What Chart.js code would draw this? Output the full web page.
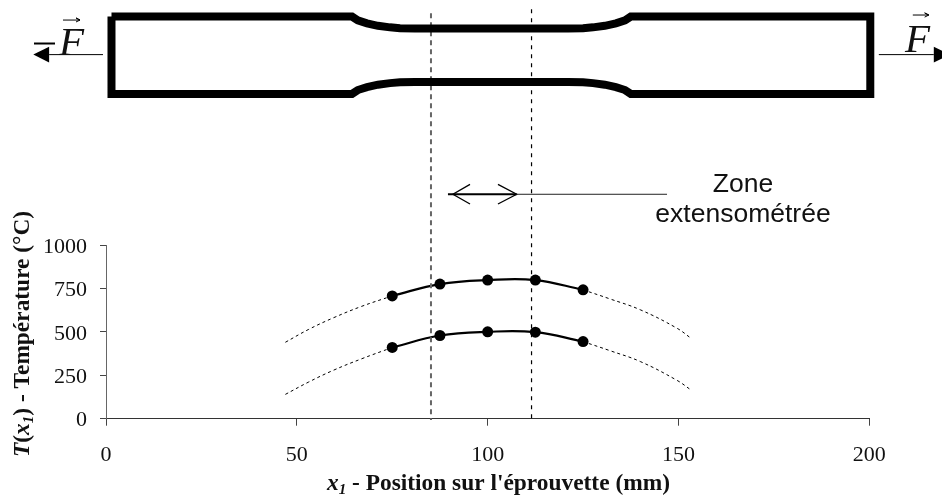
<!DOCTYPE html>
<html>
<head>
<meta charset="utf-8">
<script src="https://cdn.jsdelivr.net/npm/chart.js@4"></script>
<style>
  html, body { margin: 0; padding: 0; background: #fff; }
  canvas { display: block; }
</style>
</head>
<body>
<canvas id="chart" width="942" height="495"></canvas>
<script>
// measured points, x1 in mm, T in °C
const positions = [75, 87.5, 100, 112.5, 125];
const highTemps = [707, 775, 798, 798, 742];
const lowTemps = [410, 479, 500, 498, 444];

// fitted curves outside the measured zone (dashed)
const leftFitX = [47, 53, 59.6, 67, 75];
const highLeftFit = [440, 513, 581, 647, 707];
const lowLeftFit = [140, 210, 279, 345, 410];
const rightFitX = [125, 132, 140, 149.6, 153.3];
const highRightFit = [742, 690, 627, 521, 463];
const lowRightFit = [444, 392, 329, 221, 165];

// extensometer zone limits
const guideLeftX = [85.15, 85.15];
const guideLeftY = [2334, -8];
const guideRightX = [111.5, 111.5];
const guideRightY = [2357, -19];

// specimen sketched in the same data units, above the plot
const specimenX = [1.44, 64.46, 65.97, 68.39, 71.26, 74.41, 77.03, 80.96, 121.05, 125, 127.6, 130.7, 133.6, 136, 137.5,
  200.26, 200.26, 137.5, 136, 133.6, 130.7, 127.6, 125, 121.05, 80.96, 77.03, 74.41, 71.26, 68.39, 65.97, 64.46, 1.44, 1.44];
const specimenY = [2315, 2315, 2293, 2276, 2262, 2253, 2248, 2246, 2246, 2248, 2253, 2262, 2276, 2293, 2315,
  2315, 1870, 1870, 1892, 1909, 1923, 1932, 1937, 1939, 1939, 1937, 1932, 1923, 1909, 1892, 1870, 1870, 2315];

const zoneArrowX = [107.6, 89.6];
const zoneArrowY = [1292, 1292];
const leaderX = [147, 107.6];
const leaderY = [1292, 1292];
const chevronLeftX = [95.38, 90.9, 95.38];
const chevronLeftY = [1349, 1292, 1236];
const chevronRightX = [102.7, 107.6, 102.7];
const chevronRightY = [1349, 1292, 1236];

const forceLeftX = [-0.79, -14.9];
const forceRightX = [216.9, 202.5];
const forceY = [2096, 2096];
const minusX = [-13.36, -18.87];
const minusY = [2160, 2160];
const vecLeftX = [-11.27, -6.81, -7.86, -6.81, -7.86];
const vecLeftY = [2295, 2295, 2307, 2295, 2284];
const vecRightX = [211.4, 215.6, 214.5, 215.6, 214.5];
const vecRightY = [2324, 2324, 2336, 2324, 2312];
const headLeftX = [-19.05, -14.9, -14.9];
const headRightX = [221, 216.9, 216.9];
const headY = [2096, 2142, 2050];

const zip = (xs, ys) => xs.map((x, i) => ({ x: x, y: ys[i] }));

function sketchLine(xs, ys, width, color, dash) {
  return {
    data: zip(xs, ys),
    showLine: true,
    clip: false,
    tension: 0,
    pointRadius: 0,
    borderWidth: width,
    borderColor: color,
    borderDash: dash || [],
    borderJoinStyle: "miter",
    borderCapStyle: "butt",
  };
}

function fitLine(xs, ys, width, dash) {
  return {
    data: zip(xs, ys),
    showLine: true,
    tension: 0.4,
    pointRadius: 0,
    borderWidth: width,
    borderColor: "#000",
    borderDash: dash || [],
  };
}

function measured(ys) {
  return {
    data: zip(positions, ys),
    showLine: true,
    tension: 0.4,
    pointRadius: 5.5,
    pointBackgroundColor: "#000",
    pointBorderWidth: 0,
    borderWidth: 2.2,
    borderColor: "#000",
  };
}

const serif = '"Liberation Serif", "Times New Roman", serif';
const sans = '"Liberation Sans", Arial, sans-serif';

function drawRuns(ctx, runs, x, y) {
  runs.forEach((run) => {
    ctx.font = run.font;
    ctx.fillText(run.text, x, y + (run.dy || 0));
    x += ctx.measureText(run.text).width;
  });
}

const labels = {
  id: "labels",
  afterDatasetsDraw(chart) {
    const ctx = chart.ctx;
    const sx = chart.scales.x;
    const sy = chart.scales.y;

    ctx.save();
    ctx.fillStyle = "#000";
    [headLeftX, headRightX].forEach((xs) => {
      ctx.beginPath();
      xs.forEach((x, i) => {
        ctx.lineTo(sx.getPixelForValue(x), sy.getPixelForValue(headY[i]));
      });
      ctx.closePath();
      ctx.fill();
    });

    ctx.fillStyle = "#111";
    ctx.textBaseline = "alphabetic";
    ctx.textAlign = "left";
    ctx.font = "italic 41px " + serif;
    ctx.fillText("F", 59, 55);
    ctx.fillText("F", 905, 52);

    ctx.textAlign = "center";
    ctx.font = "26.5px " + sans;
    ctx.fillText("Zone", 743, 192);
    ctx.fillText("extensométrée", 743, 222);

    ctx.textAlign = "left";
    const bold = "bold 23.4px " + serif;
    const boldIt = "italic bold 23.4px " + serif;
    const sub = "italic bold 15px " + serif;
    drawRuns(ctx, [
      { text: "x", font: boldIt },
      { text: "1", font: sub, dy: 4 },
      { text: " - Position sur l'éprouvette (mm)", font: bold },
    ], 327, 490);

    ctx.translate(29, 457);
    ctx.rotate(-Math.PI / 2);
    drawRuns(ctx, [
      { text: "T", font: boldIt },
      { text: "(", font: bold },
      { text: "x", font: boldIt },
      { text: "1", font: sub, dy: 4 },
      { text: ")", font: bold },
      { text: " - Température (°C)", font: bold },
    ], 0, 0);
    ctx.restore();
  },
};

new Chart(document.getElementById("chart"), {
  type: "scatter",
  data: {
    datasets: [
      sketchLine(specimenX, specimenY, 8, "#000"),
      sketchLine(guideLeftX, guideLeftY, 2, "#666", [5, 4]),
      sketchLine(guideRightX, guideRightY, 1.2, "#000", [4, 5]),
      sketchLine(leaderX, leaderY, 1, "#222"),
      sketchLine(zoneArrowX, zoneArrowY, 2, "#000"),
      sketchLine(chevronLeftX, chevronLeftY, 1.3, "#000"),
      sketchLine(chevronRightX, chevronRightY, 1.3, "#000"),
      sketchLine(forceLeftX, forceY, 1, "#000"),
      sketchLine(forceRightX, forceY, 1, "#000"),
      sketchLine(minusX, minusY, 2, "#000"),
      sketchLine(vecLeftX, vecLeftY, 1, "#000"),
      sketchLine(vecRightX, vecRightY, 1, "#000"),
      fitLine(leftFitX, highLeftFit, 1, [3, 3]),
      fitLine(leftFitX, lowLeftFit, 1, [3, 3]),
      fitLine(rightFitX, highRightFit, 1, [3, 3]),
      fitLine(rightFitX, lowRightFit, 1, [3, 3]),
      measured(highTemps),
      measured(lowTemps),
    ],
  },
  plugins: [labels],
  options: {
    responsive: false,
    animation: false,
    events: [],
    layout: { padding: { top: 245, right: 72.7, left: 0, bottom: 0 } },
    plugins: {
      legend: { display: false },
      tooltip: { enabled: false },
    },
    scales: {
      x: {
        type: "linear",
        min: 0,
        max: 200,
        afterFit: (scale) => { scale.height = 76.3; },
        border: { color: "#333", width: 1 },
        grid: { drawOnChartArea: false, tickLength: 7, tickColor: "#444" },
        ticks: {
          stepSize: 50,
          maxRotation: 0,
          color: "#111",
          padding: 16,
          font: { family: serif, size: 22 },
        },
      },
      y: {
        type: "linear",
        min: 0,
        max: 1000,
        afterFit: (scale) => { scale.width = 106; },
        border: { color: "#666", width: 1 },
        grid: { drawOnChartArea: false, tickLength: 6, tickColor: "#444" },
        ticks: {
          stepSize: 250,
          color: "#111",
          padding: 13,
          labelOffset: 2,
          callback: (value) => String(value),
          font: { family: serif, size: 22 },
        },
      },
    },
  },
});
</script>
</body>
</html>
